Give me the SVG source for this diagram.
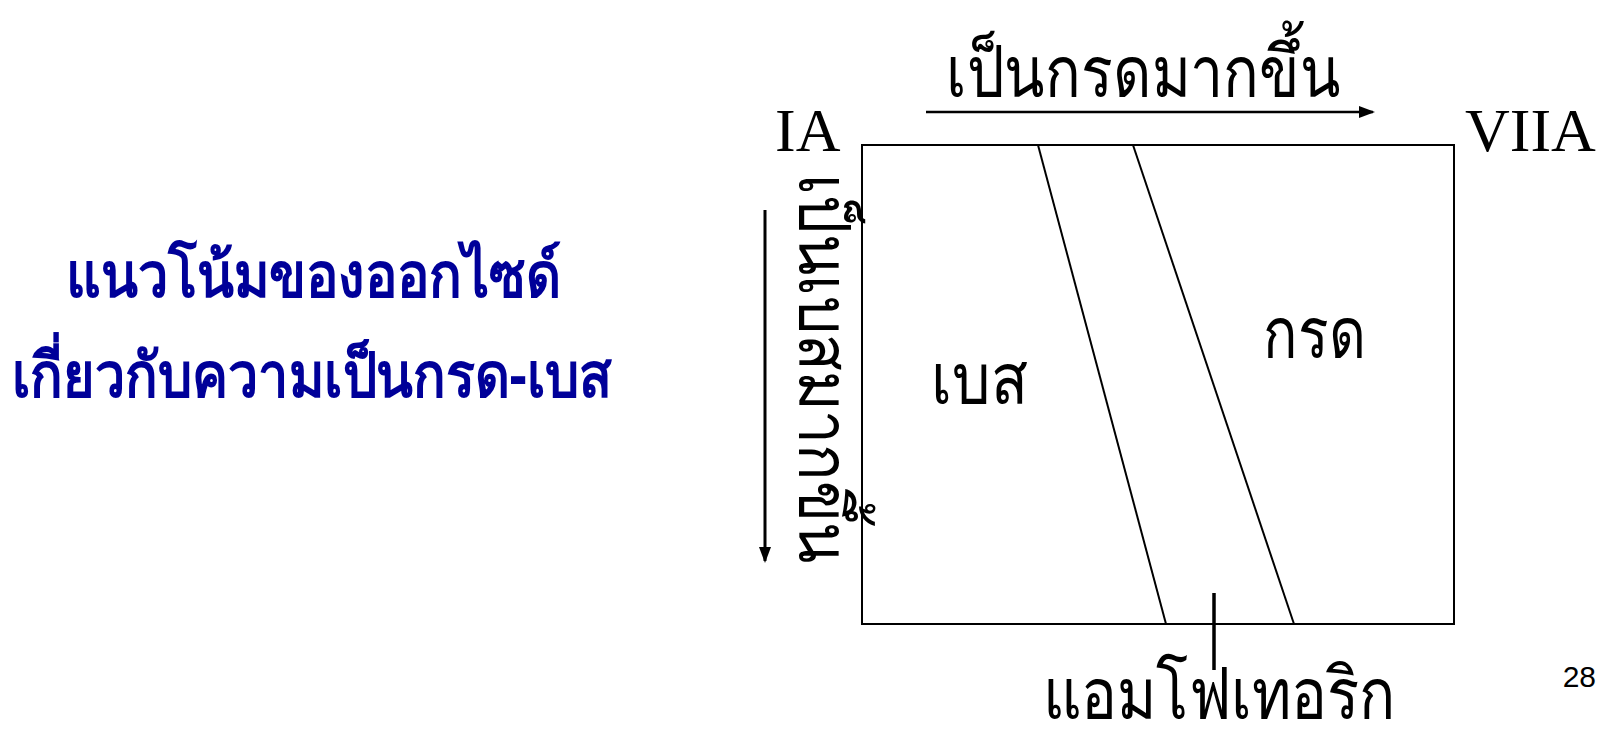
<svg xmlns="http://www.w3.org/2000/svg" width="1604" height="730" viewBox="0 0 1604 730">
<defs>
<style>
.lbl{font-family:"Liberation Serif","Noto Sans",serif;fill:#000}
.th{font-family:"Noto Sans","DejaVu Sans",sans-serif;fill:#000;font-size:72px}
.title{font-family:"Noto Sans","DejaVu Sans",sans-serif;font-weight:bold;fill:#000099;font-size:62px}
.ln{stroke:#000;stroke-width:2;fill:none}
</style>
<marker id="ah2" markerWidth="16" markerHeight="16" refX="14" refY="8" orient="auto" markerUnits="userSpaceOnUse" viewBox="0 0 16 16">
<path d="M0,2 L16,8 L0,14 z" fill="#000"/>
</marker>
</defs>
<rect width="1604" height="730" fill="#fff"/>
<g id="title">
<text class="title" x="66" y="297" textLength="495" lengthAdjust="spacingAndGlyphs">แนวโน้มของออกไซด์</text>
<text class="title" x="12" y="397" textLength="600" lengthAdjust="spacingAndGlyphs">เกี่ยวกับความเป็นกรด-เบส</text>
</g>
<g id="chart">
<rect x="862" y="145" width="592" height="479" class="ln"/>
<line x1="1038" y1="145" x2="1166" y2="624" class="ln"/>
<line x1="1133" y1="145" x2="1294" y2="624" class="ln"/>
</g>
<g id="labels">
<text class="lbl" x="775" y="151" font-size="62">IA</text>
<text class="lbl" x="1465" y="151" font-size="62">VIIA</text>
<text class="th" x="946" y="97" textLength="394" lengthAdjust="spacingAndGlyphs">เป็นกรดมากขึ้น</text>
<text class="th" transform="translate(799,174) rotate(90)" textLength="389" lengthAdjust="spacingAndGlyphs">เป็นเบสมากขึ้น</text>
<text class="th" x="931" y="404" textLength="97" lengthAdjust="spacingAndGlyphs">เบส</text>
<text class="th" x="1263" y="358" textLength="103" lengthAdjust="spacingAndGlyphs">กรด</text>
<text class="th" x="1043" y="719" textLength="353" lengthAdjust="spacingAndGlyphs">แอมโฟเทอริก</text>
<text x="1596" y="687" font-family="Liberation Sans,Arial,sans-serif" font-size="30" text-anchor="end">28</text>
</g>
<g id="connectors">
<line x1="926" y1="112" x2="1373" y2="112" stroke="#000" stroke-width="2.5" marker-end="url(#ah2)"/>
<line x1="765" y1="210" x2="765" y2="561" stroke="#000" stroke-width="3" marker-end="url(#ah2)"/>
<line x1="1214" y1="593" x2="1214" y2="670" stroke="#000" stroke-width="3.5"/>
</g>
</svg>
